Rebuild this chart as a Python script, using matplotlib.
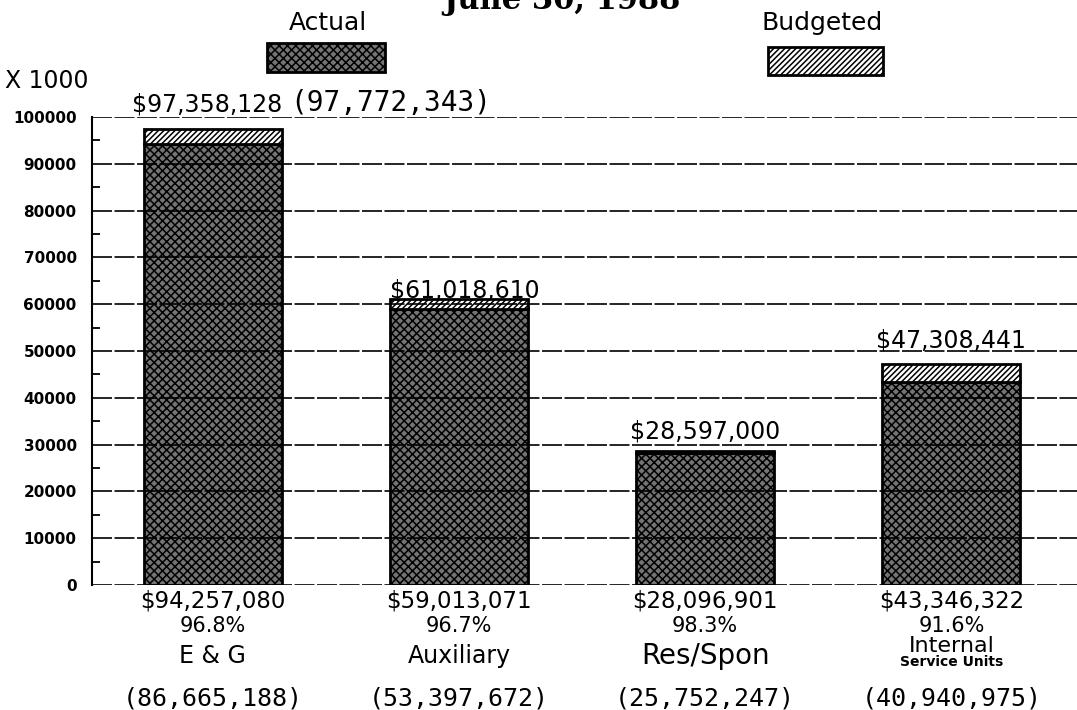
import numpy as np
import matplotlib
matplotlib.use('Agg')
import matplotlib.pyplot as plt
from matplotlib.patches import Rectangle

# values (dollars)
categories = ['E & G', 'Auxiliary', 'Res/Spon', 'Internal\nService Units']
actual = [94257080, 59013071, 28096901, 43346322]
budgeted = [97358128, 61018610, 28597000, 47308441]
pct_labels = ['96.8%', '96.7%', '98.3%', '91.6%']
prior_year = ['(86,665,188)', '(53,397,672)', '(25,752,247)', '(40,940,975)']
eg_prior_budget = '(97,772,343)'
y_ticks = list(range(0, 100001, 10000))

plt.rcParams['hatch.linewidth'] = 1.1

fig = plt.figure(figsize=(10.77, 7.10), dpi=100)
ax = fig.add_axes([0.0854, 0.1761, 0.9146, 0.6591])

x = np.arange(len(categories))
act_k = np.array(actual) / 1000
bud_k = np.array(budgeted) / 1000

ax.bar(x, act_k, width=0.56, color='#747474', edgecolor='black',
       hatch='xxxx', linewidth=2, zorder=2)
ax.bar(x, bud_k - act_k, bottom=act_k, width=0.56, color='white',
       edgecolor='black', hatch='//////', linewidth=2, zorder=2)

ax.set_xlim(-0.49, 3.51)
ax.set_ylim(0, 100000)
ax.set_yticks(y_ticks)
ax.set_yticks(range(5000, 100000, 10000), minor=True)
ax.set_yticklabels([str(t) for t in y_ticks], fontsize=11, fontweight='bold')
ax.tick_params(axis='y', which='major', length=0, pad=11)
ax.tick_params(axis='y', which='minor', direction='in', length=6, width=1.3)
ax.set_xticks([])
for s in ['top', 'right', 'bottom']:
    ax.spines[s].set_visible(False)
ax.spines['left'].set_linewidth(1.5)

for t in y_ticks:
    ax.axhline(t, color='black', lw=1.2, ls=(0, (12, 1.5)), zorder=3)

# labels above the bars
top_gap = [0, 2, 13, 16]
for i in range(len(categories)):
    label = '${:,}'.format(budgeted[i])
    if i == 0:
        ax.annotate(label, xy=(i, 100000), xytext=(-4, 4), textcoords='offset points',
                    ha='center', va='baseline', fontsize=17)
        ax.annotate(eg_prior_budget, xy=(i, 100000), xytext=(56, 4),
                    textcoords='offset points', ha='left', va='baseline',
                    fontsize=20, family='DejaVu Sans Mono')
    else:
        ax.annotate(label, xy=(i, bud_k[i]), xytext=(4 if i == 1 else 0, top_gap[i] * 0.72),
                    textcoords='offset points', ha='center', va='baseline', fontsize=17)

# labels below the bars
cat_sizes = [17, 17, 20, 16]
for i, cat in enumerate(categories):
    ax.annotate('${:,}'.format(actual[i]), xy=(i, 0), xytext=(0, -11.5),
                textcoords='offset points', ha='center', va='center', fontsize=16.5)
    ax.annotate(pct_labels[i], xy=(i, 0), xytext=(0, -29.5),
                textcoords='offset points', ha='center', va='center', fontsize=15)
    lines = cat.split('\n')
    if len(lines) == 1:
        ax.annotate(cat, xy=(i, 0), xytext=(0, -51),
                    textcoords='offset points', ha='center', va='center',
                    fontsize=cat_sizes[i])
    else:
        ax.annotate(lines[0], xy=(i, 0), xytext=(0, -44),
                    textcoords='offset points', ha='center', va='center',
                    fontsize=cat_sizes[i])
        ax.annotate(lines[1], xy=(i, 0), xytext=(0, -55.5),
                    textcoords='offset points', ha='center', va='center',
                    fontsize=10, fontweight='bold')
    ax.annotate(prior_year[i], xy=(i, 0), xytext=(0, -82),
                textcoords='offset points', ha='center', va='center',
                fontsize=18, family='DejaVu Sans Mono')

# legend drawn by hand, labels over swatches
W, H = 1077.0, 710.0
fig.text(328 / W, 1 - 23 / H, 'Actual', ha='center', va='center', fontsize=18)
fig.text(822 / W, 1 - 23 / H, 'Budgeted', ha='center', va='center', fontsize=18)
fig.add_artist(Rectangle((267 / W, 1 - 72 / H), 118 / W, 29 / H, transform=fig.transFigure,
                         facecolor='#747474', edgecolor='black', hatch='xxxx', lw=2))
fig.add_artist(Rectangle((768 / W, 1 - 75 / H), 115 / W, 28 / H, transform=fig.transFigure,
                         facecolor='white', edgecolor='black', hatch='//////', lw=2))
fig.text(5 / W, 1 - 81 / H, 'X 1000', ha='left', va='center', fontsize=17)

# title, mostly cut off at the top edge (as in the scan)
fig.text(562 / W, 1 - 9 / H, 'June 30, 1988', ha='center', va='baseline',
         fontsize=22, fontweight='bold', family='DejaVu Serif')

fig.savefig('out.png', dpi=100)
